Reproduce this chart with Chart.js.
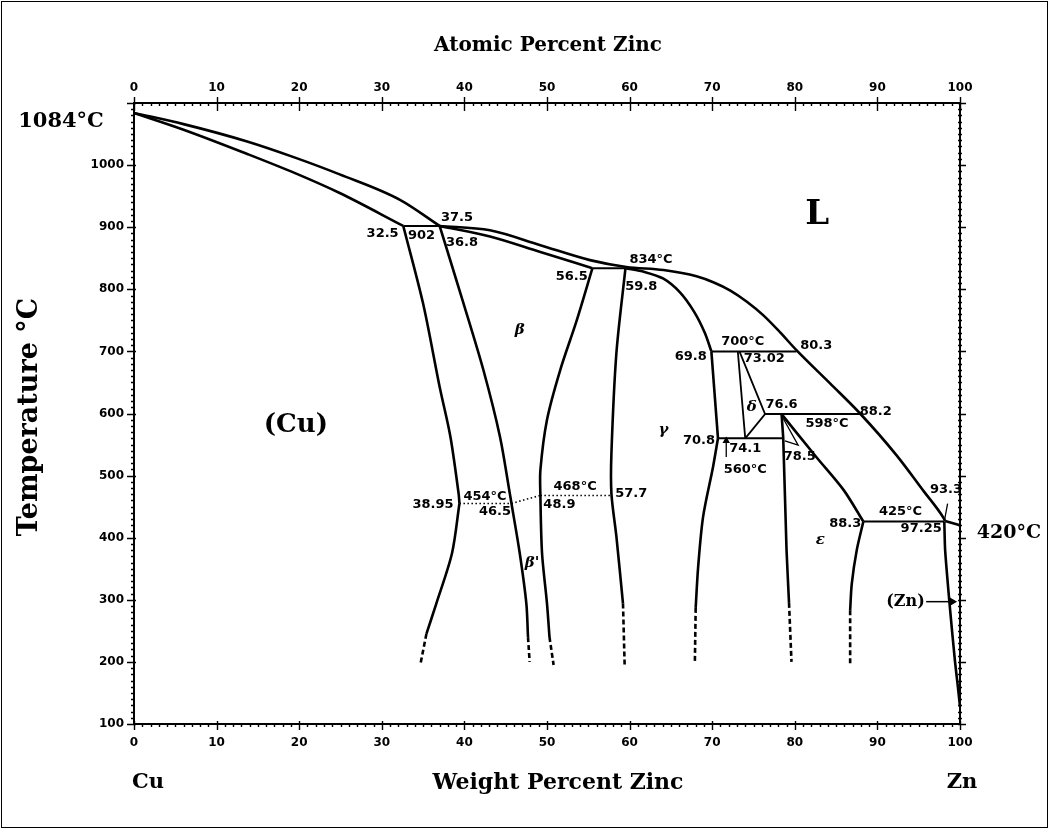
<!DOCTYPE html>
<html><head><meta charset="utf-8">
<script src="https://cdn.jsdelivr.net/npm/chart.js@4.4.1/dist/chart.umd.min.js"></script>
<style>html,body{margin:0;padding:0;background:#fff;}canvas{display:block;}</style>
</head><body>
<canvas id="c" width="1049" height="829" style="width:1049px;height:829px"></canvas>
<script>
// ---- tick labels ----
const weightTicks = [0,10,20,30,40,50,60,70,80,90,100];
const atomicTicks = [0,10,20,30,40,50,60,70,80,90,100];
const tempTicks = [100,200,300,400,500,600,700,800,900,1000];

// ---- boundary curves (wt% Zn, °C) ----
const liqCuWt = [0, 6, 13.7, 19.5, 24.9, 32.2, 37.0];
const liqCuT  = [1084, 1066, 1038, 1012, 985, 944, 902];
const liqZnWt = [37.0, 43.1, 49.2, 55.2, 59.6, 64.1, 68.1, 70.2, 72.2, 74.2, 76.2, 78.2, 80.2, 84.3, 87.9, 92.3, 95.6, 98.0, 98.2];
const liqZnT  = [902, 895, 871, 847, 836, 831, 821, 811, 798, 780, 758, 731, 702, 648, 600, 533, 475, 432, 427];
const liqEndWt = [98.2, 100];
const liqEndT  = [427, 420];
const solAWt = [0, 6, 13.7, 19.5, 24.9, 32.6];
const solAT  = [1084, 1057, 1018, 987, 955, 902];
const solBWt = [37.0, 43.1, 49.2, 55.5];
const solBT  = [902, 885, 860, 834];
const aUpWt = [32.6, 35.0, 37.0, 38.3, 39.3, 39.4];
const aUpT  = [902, 777, 643, 563, 471, 455];
const aLoWt = [39.4, 38.5, 36.6, 35.4];
const aLoT  = [455, 375, 294, 245];
const aDashWt = [35.4, 34.7];
const aDashT  = [245, 198];
const bLeftWt = [37.0, 39.9, 42.3, 44.3, 45.5, 45.7, 46.7, 47.5, 47.7];
const bLeftT  = [902, 777, 670, 563, 471, 455, 375, 294, 240];
const bLeftDashWt = [47.7, 47.9];
const bLeftDashT  = [240, 200];
const bRightWt = [55.5, 53.6, 51.6, 50.0, 49.2, 49.2, 49.4, 50.0, 50.3];
const bRightT  = [834, 750, 670, 590, 509, 468, 375, 294, 240];
const bRightDashWt = [50.3, 50.8];
const bRightDashT  = [240, 195];
const gLeftWt = [59.5, 58.4, 57.8, 57.8, 58.4, 59.2];
const gLeftT  = [834, 697, 536, 471, 402, 294];
const gLeftDashWt = [59.2, 59.4];
const gLeftDashT  = [294, 195];
const gRightUpWt = [59.5, 61.8, 64.1, 66.1, 67.8, 69.1, 69.9];
const gRightUpT  = [834, 828, 817, 795, 764, 730, 700];
const gRightMidWt = [69.9, 70.7];
const gRightMidT  = [700, 560];
const gRightLoWt = [70.7, 70.1, 68.9, 68.3, 68.0];
const gRightLoT  = [560, 514, 434, 353, 287];
const gRightDashWt = [68.0, 67.9];
const gRightDashT  = [287, 198];
const deltaLeftWt = [73.1, 74.0];
const deltaLeftT  = [700, 560];
const deltaRightWt = [73.3, 76.4, 74.0];
const deltaRightT  = [700, 599, 560];
const epsVertWt = [78.4, 78.6, 79.0, 79.3];
const epsVertT  = [599, 560, 380, 295];
const epsVertDashWt = [79.3, 79.6];
const epsVertDashT  = [295, 200];
const epsTriWt = [78.6, 80.4, 78.8];
const epsTriT  = [592, 549, 556];
const epsSolWt = [78.4, 82.6, 85.9, 88.3];
const epsSolT  = [599, 530, 477, 426];
const epsRightWt = [88.3, 87.5, 86.9, 86.7];
const epsRightT  = [426, 380, 326, 283];
const epsRightDashWt = [86.7, 86.7];
const epsRightDashT  = [283, 198];
const znSolvWt = [98.1, 98.2, 98.8, 99.4, 99.7, 100];
const znSolvT  = [426, 380, 284, 200, 165, 128];
// isotherms (tie lines)
const iso834Wt = [55.5, 59.5]; const iso834T = [834, 834];
const iso902Wt = [32.6, 37.0]; const iso902T = [902, 902];
const iso700Wt = [69.9, 80.2]; const iso700T = [700, 700];
const iso598Wt = [76.4, 87.9]; const iso598T = [599, 599];
const iso560Wt = [70.7, 78.6]; const iso560T = [560, 560];
const iso425Wt = [88.3, 98.1]; const iso425T = [426, 426];
// ordering (dotted)
const ord454Wt = [39.4, 45.7]; const ord454T = [455, 455];
const ordRiseWt = [45.7, 47.5, 49.2]; const ordRiseT = [455, 462, 468];
const ord468Wt = [49.2, 57.8]; const ord468T = [468, 468];
// pointers
const leaderWt = [98.5, 98.15]; const leaderT = [455, 430];
const znArrowWt = [95.9, 99.0]; const znArrowT = [297, 297];
const smallArrowWt = [71.7, 71.7]; const smallArrowT = [530, 556];

// ---- text labels placed at data coordinates ----
const numLabels = [
  ['32.5',30.1,890],['902',34.8,887],['37.5',39.1,915],['36.8',39.7,875],
  ['56.5',53.0,820],['834°C',62.6,847],['59.8',61.4,804],
  ['69.8',67.4,691],['700°C',73.7,715],['80.3',82.6,710],['73.02',76.3,689],
  ['76.6',78.4,614],['88.2',89.8,603],['598°C',83.9,584],
  ['70.8',68.4,557],['74.1',74.0,544],['78.5',80.6,530],['560°C',74.0,509],
  ['38.95',36.2,453],['454°C',42.5,466],['46.5',43.7,442],
  ['468°C',53.4,482],['48.9',51.5,453],['57.7',60.2,471],
  ['93.3',98.3,477],['425°C',92.8,442],['97.25',95.3,415],['88.3',86.1,423]
];
const phaseLabels = [
  ['β',46.7,734],['δ',74.8,611],['γ',64.1,573],["β'",48.2,359],['ε',83.1,396]
];
const bigLabels = [
  ['(Cu)',19.6,581,26],['L',82.7,920,34],['(Zn)',93.4,297,16]
];

function pts(w,t){ return w.map((v,i)=>({x:v,y:t[i]})); }
const SOLID = {borderWidth:2.6};
const MONO = {borderWidth:2.6, cubicInterpolationMode:'monotone'};
const TIE = {borderWidth:2, tension:0};
const DASH = {borderWidth:2.6, borderDash:[5,3], tension:0};
const DOT = {borderWidth:1.6, borderDash:[1.5,2.5], tension:0};
function ds(w,t,style,tension){
  return Object.assign({data:pts(w,t), showLine:true, pointRadius:0, borderColor:'#000',
    backgroundColor:'#000', fill:false, clip:false, tension: tension===undefined?0.3:tension}, style);
}
const datasets = [
  ds(liqCuWt,liqCuT,MONO), ds(liqZnWt,liqZnT,MONO), ds(liqEndWt,liqEndT,SOLID,0),
  ds(solAWt,solAT,MONO), ds(solBWt,solBT,MONO),
  ds(aUpWt,aUpT,SOLID), ds(aLoWt,aLoT,SOLID), ds(aDashWt,aDashT,DASH),
  ds(bLeftWt,bLeftT,SOLID), ds(bLeftDashWt,bLeftDashT,DASH),
  ds(bRightWt,bRightT,SOLID), ds(bRightDashWt,bRightDashT,DASH),
  ds(gLeftWt,gLeftT,SOLID), ds(gLeftDashWt,gLeftDashT,DASH),
  ds(gRightUpWt,gRightUpT,SOLID), ds(gRightMidWt,gRightMidT,SOLID,0),
  ds(gRightLoWt,gRightLoT,SOLID), ds(gRightDashWt,gRightDashT,DASH),
  ds(deltaLeftWt,deltaLeftT,{borderWidth:1.8},0), ds(deltaRightWt,deltaRightT,{borderWidth:1.8},0),
  ds(epsVertWt,epsVertT,SOLID,0.1), ds(epsVertDashWt,epsVertDashT,DASH),
  ds(epsTriWt,epsTriT,{borderWidth:1.3},0),
  ds(epsSolWt,epsSolT,SOLID), ds(epsRightWt,epsRightT,SOLID), ds(epsRightDashWt,epsRightDashT,DASH),
  ds(znSolvWt,znSolvT,SOLID,0.2),
  ds(iso834Wt,iso834T,TIE), ds(iso902Wt,iso902T,TIE), ds(iso700Wt,iso700T,TIE),
  ds(iso598Wt,iso598T,TIE), ds(iso560Wt,iso560T,TIE), ds(iso425Wt,iso425T,TIE),
  ds(ord454Wt,ord454T,DOT), ds(ordRiseWt,ordRiseT,DOT), ds(ord468Wt,ord468T,DOT),
  ds(leaderWt,leaderT,{borderWidth:1.3},0),
  Object.assign(ds(znArrowWt,znArrowT,{borderWidth:1.5},0),{pointRadius:[0,4],pointStyle:'triangle',rotation:90}),
  Object.assign(ds(smallArrowWt,smallArrowT,{borderWidth:1.3},0),{pointRadius:[0,3],pointStyle:'triangle',rotation:0})
];

const tickFont = {family:'"DejaVu Sans"', weight:'bold', size:12};
function fixTicks(arr){ return s => { s.ticks = arr.map(v=>({value:v})); }; }
const plain = v => String(v);

const decor = {
  id:'decor',
  afterDatasetsDraw(chart){
    const ctx = chart.ctx, xs = chart.scales.x, ys = chart.scales.y, a = chart.chartArea;
    ctx.save();
    ctx.strokeStyle = '#000'; ctx.lineWidth = 1.4;
    ctx.beginPath();
    for (let v=0; v<=100; v++){
      const px = Math.round(xs.getPixelForValue(v))+0.5;
      const major = v%10===0;
      ctx.moveTo(px, a.top - (major?6:0)); ctx.lineTo(px, a.top + (major?8:3));
      ctx.moveTo(px, a.bottom - (major?3:0)); ctx.lineTo(px, a.bottom + (major?6:3));
    }
    for (let t=100; t<=1100; t+=10){
      const py = Math.round(ys.getPixelForValue(t))+0.5;
      const major = t%100===0;
      ctx.moveTo(a.left - (major?7:3), py); ctx.lineTo(a.left + (major?2:1), py);
      ctx.moveTo(a.right - 2, py); ctx.lineTo(a.right + (major?6:2), py);
    }
    ctx.stroke();
    ctx.fillStyle = '#000'; ctx.textAlign='center'; ctx.textBaseline='middle';
    ctx.font = 'bold 13px "DejaVu Sans"';
    numLabels.forEach(([s,w,t])=>ctx.fillText(s, xs.getPixelForValue(w), ys.getPixelForValue(t)));
    ctx.font = 'italic bold 15px "DejaVu Serif"';
    phaseLabels.forEach(([s,w,t])=>ctx.fillText(s, xs.getPixelForValue(w), ys.getPixelForValue(t)));
    bigLabels.forEach(([s,w,t,sz])=>{
      ctx.font = 'bold '+sz+'px "DejaVu Serif"';
      ctx.fillText(s, xs.getPixelForValue(w), ys.getPixelForValue(t));
    });
    ctx.restore();
  },
  afterDraw(chart){
    const ctx = chart.ctx;
    ctx.save();
    ctx.fillStyle = '#000'; ctx.textAlign='center'; ctx.textBaseline='middle';
    ctx.font = 'bold 20px "DejaVu Serif"';
    ctx.fillText('Atomic Percent Zinc', 548, 46);
    ctx.font = 'bold 22px "DejaVu Serif"';
    ctx.fillText('Weight Percent Zinc', 558, 783);
    ctx.font = 'bold 21px "DejaVu Serif"';
    ctx.fillText('Cu', 148, 783);
    ctx.fillText('Zn', 962, 783);
    ctx.fillText('1084°C', 61, 122);
    ctx.font = 'bold 19px "DejaVu Serif"';
    ctx.fillText('420°C', 1009, 533);
    ctx.translate(30, 417); ctx.rotate(-Math.PI/2);
    ctx.font = 'bold 27px "DejaVu Serif"';
    ctx.fillText('Temperature °C', 0, 0);
    ctx.restore();
    ctx.save();
    ctx.strokeStyle = '#000'; ctx.lineWidth = 1;
    ctx.strokeRect(1.5, 1.5, 1046, 826);
    ctx.restore();
  }
};

new Chart(document.getElementById('c'), {
  type:'scatter',
  data:{datasets},
  options:{
    responsive:false, animation:false, devicePixelRatio:1,
    layout:{padding:0},
    plugins:{legend:{display:false}, tooltip:{enabled:false}},
    scales:{
      x:{type:'linear', position:'bottom', min:0, max:100,
         afterBuildTicks:fixTicks(weightTicks), afterFit:s=>{s.height=105;},
         ticks:{font:tickFont, color:'#000', padding:4, maxRotation:0, callback:plain},
         grid:{display:false}, border:{display:true, color:'#000', width:2}},
      x2:{type:'linear', position:'top', min:0, max:100,
         afterBuildTicks:fixTicks(atomicTicks), afterFit:s=>{s.height=103;},
         ticks:{font:tickFont, color:'#000', padding:0, maxRotation:0, callback:plain},
         grid:{display:false}, border:{display:true, color:'#000', width:2}},
      y:{type:'linear', position:'left', min:100, max:1100,
         afterBuildTicks:fixTicks(tempTicks), afterFit:s=>{s.width=134;},
         ticks:{font:tickFont, color:'#000', padding:2, callback:plain},
         grid:{display:false}, border:{display:true, color:'#000', width:2}},
      y2:{type:'linear', position:'right', min:100, max:1100,
         afterFit:s=>{s.width=89;},
         ticks:{display:false},
         grid:{display:false}, border:{display:true, color:'#000', width:2}}
    }
  },
  plugins:[decor]
});
</script>
</body></html>
